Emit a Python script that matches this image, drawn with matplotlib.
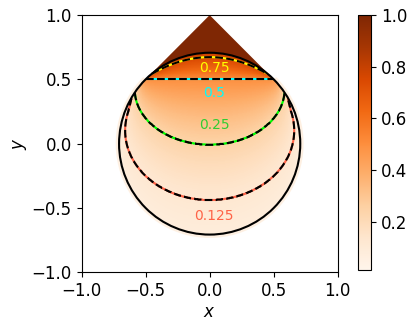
import numpy as np
import matplotlib
matplotlib.use('Agg')
import matplotlib.pyplot as plt
from matplotlib.patches import Circle, Polygon, Arc

# values
levels = [0.125, 0.25, 0.5, 0.75]
level_colors = ['tomato', 'lime', 'cyan', 'yellow']
label_colors = ['tomato', 'limegreen', 'cyan', 'yellow']
label_text = ['0.125', '0.25', '0.5', '0.75']
label_x = [0.035, 0.035, 0.035, 0.035]
label_y = [-0.563, 0.146, 0.393, 0.592]

# shape of the level curves under the chord, one knot per halving
# (0 -> 0.5 on the chord, 1 -> 0.25, 2 -> 0.125, ...)
halvings = [0.0, 1.0, 2.0, 3.0, 4.0]
ell_cy = [0.5, 0.42, 0.10, -0.15, -0.35]
ell_a = [0.5, 0.585, 0.66, 0.74, 0.85]
ell_b = [0.0, 0.43, 0.54, 0.78, 0.95]

radius = np.sqrt(0.5)     # circle through (+-0.5, 0.5)
chord_y = 0.5
depth_above = 0.173       # height of the 0.75 line above the chord (centre)
half_w = 0.52
cone_tip = (0.0, 1.0)
vmin, vmax = 0.014, 1.0

n = 601
xs = np.linspace(-1, 1, n)
ys = np.linspace(-1, 1, n)
X, Y = np.meshgrid(xs, ys)

# below the chord: smallest number of halvings whose ellipse holds the point
cval = np.full(X.shape, halvings[-1])
done = np.zeros(X.shape, bool)
for c in np.linspace(1e-3, halvings[-1], 500):
    cy = np.interp(c, halvings, ell_cy)
    a = np.interp(c, halvings, ell_a)
    b = np.interp(c, halvings, ell_b)
    inside = (X / a)**2 + ((Y - cy) / b)**2 <= 1
    new = inside & ~done
    cval[new] = c
    done |= inside
low = 0.5 * 2.0**(-cval)

# above the chord: climbs towards 1
lu = np.clip(depth_above * (1 - (X / half_w)**2), 0.005, None)
high = 1 - 0.5 * 2.0**(-(Y - chord_y) / lu)

F = np.where(Y < chord_y, low, high)
F = np.ma.masked_where(X**2 + Y**2 > (radius + 0.03)**2, F)

fig = plt.figure(figsize=(4.16, 3.28), dpi=100)
ax = fig.add_axes([0.196, 0.170, 0.616, 0.784])
cax = fig.add_axes([0.861, 0.177, 0.032, 0.777])

cmap = plt.get_cmap('Oranges')
norm = plt.Normalize(vmin, vmax)

ax.add_patch(Polygon([(-0.5, 0.5), cone_tip, (0.5, 0.5)], closed=True,
                     fc=cmap(norm(1.0)), ec='none', zorder=1))

im = ax.pcolormesh(X, Y, F, cmap=cmap, norm=norm, shading='auto', zorder=2)
im.set_clip_path(Circle((0, 0), radius, transform=ax.transData))
# soft glow just outside the lower rim
ax.add_patch(Arc((0, 0), 2 * radius + 0.025, 2 * radius + 0.025, theta1=135, theta2=405,
                 ec=cmap(0.15), lw=2.5, alpha=0.5, zorder=2))

Fc = np.ma.masked_where(X**2 + Y**2 > radius**2, F)
ax.contour(X, Y, Fc, levels=levels, colors=level_colors, linewidths=1.5, zorder=3)
ax.contour(X, Y, Fc, levels=levels, colors='k', linewidths=1.5, linestyles='--', zorder=4)
ax.add_patch(Circle((0, 0), radius, fill=False, ec='k', lw=1.5, zorder=5))

for t, lx, ly, c in zip(label_text, label_x, label_y, label_colors):
    ax.text(lx, ly, t, color=c, fontsize=10, ha='center', va='center', zorder=6)

ax.set_xlim(-1, 1)
ax.set_ylim(-1, 1)
ax.set_xticks([-1, -0.5, 0, 0.5, 1])
ax.set_yticks([-1, -0.5, 0, 0.5, 1])
ax.tick_params(labelsize=12)
ax.set_xlabel('$x$', fontsize=12, labelpad=2)
ax.set_ylabel('$y$', fontsize=12, labelpad=2)

cb = fig.colorbar(im, cax=cax)
cb.set_ticks([0.2, 0.4, 0.6, 0.8, 1.0])
cb.ax.tick_params(labelsize=12)

fig.savefig('out.png', dpi=100)
